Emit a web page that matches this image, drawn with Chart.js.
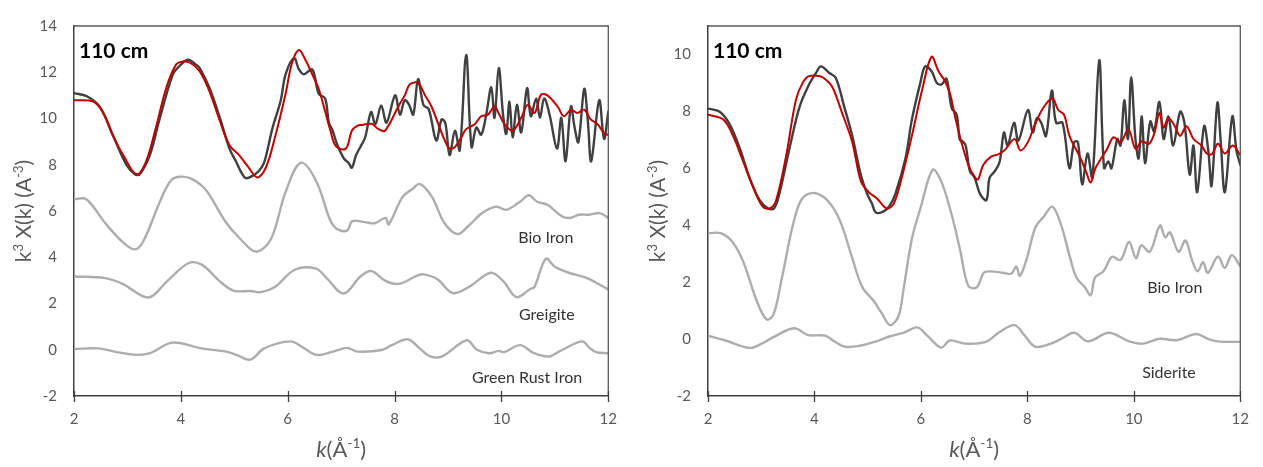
<!DOCTYPE html>
<html>
<head>
<meta charset="utf-8">
<script src="https://cdn.jsdelivr.net/npm/chart.js@4/dist/chart.umd.min.js"></script>
<style>
  html, body { margin: 0; padding: 0; background: #ffffff; }
  #wrap { position: relative; width: 1263px; height: 467px; overflow: hidden; }
  .panel { position: absolute; top: 0; height: 467px; }
  #left { left: 0; width: 631px; }
  #right { left: 634px; width: 629px; }
</style>
</head>
<body>
<div id="wrap">
  <div class="panel" id="left"><canvas id="cLeft" width="631" height="467"></canvas></div>
  <div class="panel" id="right"><canvas id="cRight" width="629" height="467"></canvas></div>
</div>
<script>
// ---------- k-space EXAFS spectra, 110 cm sample ----------
// Left panel: sample data, linear-combination fit and three reference spectra (offset)
const leftDataK = [2.0,2.24,2.48,2.73,2.98,3.14,3.23,3.42,3.60,3.85,3.97,4.13,4.28,4.35,4.53,4.72,4.91,5.03,5.15,5.22,5.34,5.46,5.56,5.71,5.87,5.96,6.12,6.21,6.30,6.46,6.58,6.70,6.77,6.84,6.92,7.05,7.14,7.20,7.28,7.36,7.45,7.56,7.64,7.75,7.85,8.01,8.10,8.19,8.27,8.35,8.44,8.54,8.64,8.78,8.88,8.95,9.03,9.13,9.22,9.34,9.44,9.53,9.62,9.71,9.81,9.87,9.95,10.03,10.09,10.15,10.21,10.29,10.37,10.48,10.55,10.65,10.72,10.80,10.90,11.04,11.12,11.20,11.30,11.37,11.44,11.55,11.62,11.68,11.83,11.92,12.0];
const leftData = [11.10,10.96,10.51,9.26,8.0,7.59,7.59,8.42,9.96,11.91,12.26,12.54,12.33,12.19,11.35,10.1,8.70,8.15,7.59,7.42,7.52,7.73,8.1,9.54,10.79,11.91,12.61,12.12,11.91,12.12,11.07,10.87,9.82,9.48,8.91,8.28,8.08,7.87,8.42,8.77,9.19,10.28,9.75,10.56,9.82,11.0,10.17,10.79,10.6,10.17,11.70,10.59,10.4,9.05,9.96,9.8,8.42,9.47,8.63,12.75,8.77,9.61,9.3,10.10,11.35,10.03,12.19,10.17,9.33,10.73,9.19,10.59,9.40,11.31,10.10,10.87,10.03,10.87,10.17,8.70,10.03,8.15,10.52,9.6,8.98,11.28,9.8,8.15,10.79,9.12,10.3];

const leftFitK = [2.0,2.36,2.55,2.73,2.92,3.17,3.35,3.54,3.73,3.91,4.04,4.18,4.35,4.53,4.72,4.91,5.09,5.25,5.43,5.59,5.77,5.96,6.08,6.21,6.33,6.46,6.58,6.70,6.80,6.89,7.02,7.11,7.20,7.30,7.39,7.57,7.70,7.82,8.07,8.19,8.29,8.44,8.57,8.69,8.82,8.94,9.03,9.13,9.25,9.34,9.50,9.62,9.75,9.87,9.96,10.06,10.21,10.37,10.49,10.62,10.74,10.86,11.05,11.17,11.30,11.42,11.55,11.67,11.80,11.93,12.0];
const leftFit = [10.79,10.73,10.24,9.26,8.42,7.59,8.15,9.68,11.35,12.33,12.47,12.4,12.05,11.21,9.96,8.84,8.42,7.94,7.45,7.87,9.26,11.07,12.4,12.96,12.54,11.91,11.28,10.31,9.47,8.84,8.66,8.77,9.47,9.68,9.72,9.77,9.54,9.47,10.52,11.0,11.49,11.53,11.0,10.52,9.75,9.05,8.70,8.77,9.19,9.54,9.75,10.10,10.17,10.52,10.17,9.75,9.47,10.03,10.59,10.24,11.03,11.0,10.52,10.10,10.38,10.24,10.38,9.96,9.75,9.35,9.3];

const leftBioK = [2.0,2.23,2.58,2.91,3.13,3.29,3.62,3.81,3.97,4.17,4.39,4.52,4.85,5.11,5.41,5.69,5.95,6.24,6.53,6.79,6.92,7.11,7.21,7.44,7.63,7.83,7.89,8.15,8.34,8.47,8.70,8.93,9.18,9.38,9.64,9.90,10.09,10.35,10.51,10.67,10.87,11.13,11.29,11.45,11.64,11.84,12.0];
const leftBio = [6.51,6.51,5.49,4.66,4.34,4.66,6.47,7.31,7.48,7.42,7.10,6.75,5.49,4.80,4.24,4.80,6.75,8.08,7.31,5.63,5.22,5.15,5.56,5.52,5.47,5.70,5.42,6.61,6.96,7.17,6.61,5.49,5.00,5.35,5.91,6.19,6.05,6.40,6.68,6.40,6.26,5.77,5.70,5.84,5.84,5.91,5.70];

const greigiteK = [2.0,2.58,2.91,3.39,3.75,4.14,4.39,4.72,4.98,5.30,5.50,5.75,6.14,6.53,6.72,7.05,7.37,7.57,7.83,8.08,8.41,8.54,8.80,9.09,9.38,9.80,10.03,10.28,10.54,10.62,10.83,11.0,11.26,11.58,12.0];
const greigite = [3.17,3.10,2.85,2.26,2.98,3.74,3.68,2.98,2.56,2.54,2.49,2.70,3.47,3.51,3.12,2.43,3.19,3.40,2.98,2.85,3.19,3.26,3.05,2.45,2.70,3.33,2.98,2.28,2.63,2.72,3.93,3.59,3.33,3.12,2.61];

const greenRustK = [2.0,2.45,2.8,3.17,3.42,3.84,4.39,4.85,5.04,5.30,5.56,6.05,6.27,6.53,6.85,7.11,7.31,7.76,7.95,8.25,8.47,8.67,8.89,9.35,9.54,9.77,9.95,10.05,10.35,10.61,10.90,11.10,11.51,11.64,11.77,12.0];
const greenRust = [0.03,0.06,-0.10,-0.22,-0.15,0.31,0.06,-0.08,-0.22,-0.43,0.06,0.36,0.12,-0.22,-0.08,0.08,-0.08,-0.01,0.20,0.45,0.06,-0.29,-0.29,0.41,0.0,-0.15,-0.05,-0.10,0.20,-0.15,-0.29,-0.05,0.36,0.10,-0.10,-0.15];

// Right panel: same sample, two-component fit with Bio Iron and Siderite
const rightDataK = [2.0,2.22,2.41,2.60,2.78,2.97,3.13,3.24,3.34,3.53,3.72,3.90,4.03,4.12,4.28,4.40,4.56,4.71,4.87,4.99,5.08,5.15,5.27,5.40,5.52,5.71,5.83,5.99,6.08,6.20,6.30,6.39,6.48,6.58,6.67,6.73,6.78,6.84,6.92,7.01,7.11,7.23,7.29,7.39,7.48,7.56,7.63,7.75,7.83,8.01,8.10,8.18,8.26,8.35,8.46,8.54,8.66,8.79,8.88,8.95,9.03,9.13,9.22,9.35,9.44,9.52,9.58,9.69,9.75,9.82,9.89,9.95,10.03,10.09,10.15,10.21,10.31,10.38,10.48,10.56,10.65,10.74,10.87,10.95,11.05,11.12,11.19,11.32,11.40,11.46,11.57,11.63,11.71,11.85,11.93,12.0];
const rightData = [8.10,7.99,7.54,6.69,5.67,4.88,4.59,4.59,5.10,6.69,8.16,8.95,9.35,9.58,9.35,9.18,8.16,7.14,5.78,5.10,4.76,4.45,4.46,4.65,5.10,6.35,7.71,9.01,9.58,9.41,9.0,8.95,9.15,8.1,7.9,7.0,6.95,6.80,5.90,5.67,5.10,4.88,5.67,5.90,6.24,7.26,6.80,7.60,6.97,8.05,7.26,7.77,7.6,7.14,8.73,7.60,7.60,6.01,6.92,6.92,5.44,6.52,5.67,9.80,6.01,6.24,6.0,7.03,6.8,8.39,7.03,9.20,7.03,6.35,7.82,6.18,7.65,7.3,8.33,7.03,7.82,6.80,7.99,7.6,5.78,6.8,5.16,7.48,6.6,5.39,8.30,7.0,5.16,7.82,6.6,6.12];

const rightFitK = [2.0,2.29,2.47,2.66,2.85,3.03,3.16,3.28,3.47,3.65,3.78,3.90,4.09,4.21,4.34,4.52,4.71,4.87,5.02,5.18,5.36,5.49,5.64,5.83,6.02,6.20,6.33,6.45,6.55,6.64,6.76,6.89,6.98,7.07,7.17,7.32,7.45,7.57,7.76,7.87,8.01,8.13,8.29,8.47,8.58,8.69,8.79,9.0,9.10,9.19,9.28,9.50,9.62,9.75,9.90,10.03,10.15,10.28,10.38,10.48,10.56,10.65,10.77,10.87,10.99,11.12,11.27,11.37,11.47,11.58,11.71,11.86,12.0];
const rightFit = [7.88,7.71,7.14,6.24,5.33,4.65,4.59,4.88,6.46,8.39,9.01,9.24,9.24,9.12,8.84,7.94,6.92,5.56,5.16,4.93,4.59,4.76,5.67,7.14,8.73,9.92,9.41,9.07,8.6,7.82,6.92,6.12,5.78,5.61,6.12,6.41,6.49,6.63,7.03,6.63,6.92,7.48,8.10,8.45,8.05,7.88,7.14,6.35,5.90,5.50,6.01,6.69,7.09,6.9,7.37,6.69,6.95,6.86,7.2,7.94,7.43,7.77,7.48,7.14,7.48,7.03,6.80,6.52,6.5,6.86,6.52,6.80,6.46];

const rightBioK = [2.0,2.24,2.46,2.66,2.91,3.10,3.23,3.39,3.59,3.75,3.94,4.16,4.36,4.52,4.71,4.90,5.10,5.26,5.42,5.58,5.67,5.83,6.0,6.22,6.38,6.57,6.73,6.89,7.05,7.18,7.31,7.54,7.70,7.79,7.86,7.99,8.15,8.31,8.47,8.63,8.79,8.92,9.08,9.19,9.27,9.43,9.59,9.75,9.91,10.04,10.14,10.30,10.49,10.59,10.68,10.84,10.97,11.10,11.20,11.30,11.39,11.58,11.71,11.84,12.0];
const rightBio = [3.72,3.72,3.41,2.73,1.37,0.69,0.86,2.16,3.97,4.88,5.13,5.01,4.59,3.97,2.84,1.82,1.37,0.92,0.49,0.81,1.71,3.52,4.65,5.95,5.55,4.42,3.18,1.87,1.82,2.33,2.38,2.33,2.3,2.55,2.22,2.84,3.92,4.31,4.65,4.03,2.95,2.16,1.82,1.54,2.16,2.38,2.89,2.78,3.41,2.84,3.29,3.07,3.99,3.58,3.75,3.07,3.46,2.73,2.38,2.7,2.33,2.90,2.50,2.95,2.56];

const sideriteK = [2.0,2.33,2.78,3.01,3.23,3.62,3.88,4.20,4.39,4.58,4.84,5.16,5.42,5.67,5.93,6.12,6.38,6.54,6.83,7.22,7.47,7.76,7.95,8.15,8.44,8.65,8.88,9.14,9.53,9.91,10.17,10.49,10.80,11.17,11.39,11.58,12.0];
const siderite = [0.12,-0.05,-0.31,-0.16,0.07,0.38,0.14,0.12,-0.10,-0.27,-0.24,-0.08,0.10,0.22,0.41,0.12,-0.30,-0.05,-0.16,-0.10,0.24,0.49,0.12,-0.27,-0.16,0.02,0.22,-0.08,0.22,-0.08,-0.16,0.01,-0.04,0.18,0.01,-0.08,-0.10];

// Axis tick values
const kTicks = [2, 4, 6, 8, 10, 12];
const leftYTicks = [-2, 0, 2, 4, 6, 8, 10, 12, 14];
const rightYTicks = [-2, 0, 2, 4, 6, 8, 10];

// ---------- drawing helpers ----------
const FONT = "Lato, 'Open Sans', 'Liberation Sans', sans-serif";
const C_DATA = '#404040', C_FIT = '#c00000', C_REF = '#adadad';
const C_AXIS = '#404040', C_FRAME = '#595959', C_TICKTXT = '#595959';

function pairs(ks, vs) { return ks.map((k, i) => ({ x: k, y: vs[i] })); }

function line(label, ks, vs, color, width) {
  return {
    label, data: pairs(ks, vs), showLine: true, borderColor: color, backgroundColor: color,
    borderWidth: width, pointRadius: 0, pointHoverRadius: 0, tension: 0.35,
    borderJoinStyle: 'round', borderCapStyle: 'round', fill: false
  };
}

// draw a run of text pieces (some superscript / italic) starting at x on baseline y
function richWidth(ctx, parts, size) {
  let w = 0;
  parts.forEach(p => {
    ctx.font = (p.italic ? 'italic ' : '') + (p.sup ? size * 0.62 : size) + 'px ' + FONT;
    w += ctx.measureText(p.t).width;
  });
  return w;
}
function drawRich(ctx, parts, size, x, y) {
  parts.forEach(p => {
    ctx.font = (p.italic ? 'italic ' : '') + (p.sup ? size * 0.62 : size) + 'px ' + FONT;
    ctx.fillText(p.t, x, p.sup ? y - size * 0.4 : y);
    x += ctx.measureText(p.t).width;
  });
}

const yTitleParts = [{ t: 'k' }, { t: '3', sup: true }, { t: ' X(k) (A' }, { t: '-3', sup: true }, { t: ')' }];
const xTitleParts = [{ t: 'k', italic: true }, { t: '(Å' }, { t: '-1', sup: true }, { t: ')' }];

// frame, crossing tick marks, axis titles and in-plot labels
const panelDecor = {
  id: 'panelDecor',
  afterDraw(chart, args, opts) {
    const { ctx, chartArea: a, scales: { x, y } } = chart;
    ctx.save();
    ctx.lineCap = 'butt';
    // top and right edges of the plot box
    ctx.strokeStyle = C_FRAME; ctx.lineWidth = 1.3;
    ctx.beginPath();
    ctx.moveTo(a.left, a.top); ctx.lineTo(a.right, a.top); ctx.lineTo(a.right, a.bottom);
    ctx.stroke();
    // k tick marks straddling the bottom axis
    ctx.strokeStyle = C_AXIS; ctx.lineWidth = 1.3;
    ctx.beginPath();
    x.ticks.forEach(t => {
      const px = Math.round(x.getPixelForValue(t.value)) + 0.5;
      ctx.moveTo(px, a.bottom - 5); ctx.lineTo(px, a.bottom + 6);
    });
    ctx.stroke();

    ctx.fillStyle = C_TICKTXT;
    ctx.textBaseline = 'alphabetic';
    ctx.textAlign = 'left';
    // x title
    const xs = 22;
    const xw = richWidth(ctx, xTitleParts, xs);
    drawRich(ctx, xTitleParts, xs, (a.left + a.right) / 2 - xw / 2, 457);
    // y title, rotated
    const ys = 21;
    const yw = richWidth(ctx, yTitleParts, ys);
    ctx.save();
    ctx.translate(31, (a.top + a.bottom) / 2);
    ctx.rotate(-Math.PI / 2);
    drawRich(ctx, yTitleParts, ys, -yw / 2, 0);
    ctx.restore();

    // panel heading
    ctx.fillStyle = '#000000';
    ctx.font = 'bold 21px ' + FONT;
    ctx.fillText(opts.heading, a.left + 5, a.top + 32);

    // series names placed in data coordinates
    ctx.fillStyle = '#333333';
    ctx.font = '16px ' + FONT;
    ctx.textAlign = 'center';
    ctx.textBaseline = 'middle';
    opts.notes.forEach(n => {
      ctx.fillText(n.text, x.getPixelForValue(n.k), y.getPixelForValue(n.v));
    });
    ctx.restore();
  }
};

function makePanel(canvasId, datasets, yMax, yTicks, padRight, notes) {
  return new Chart(document.getElementById(canvasId), {
    type: 'scatter',
    data: { datasets },
    plugins: [panelDecor],
    options: {
      responsive: false,
      animation: false,
      devicePixelRatio: 1,
      layout: { padding: { top: 13, right: padRight, left: 0, bottom: 0 } },
      events: [],
      plugins: {
        legend: { display: false },
        tooltip: { enabled: false },
        panelDecor: { heading: '110 cm', notes }
      },
      scales: {
        x: {
          type: 'linear', min: 2, max: 12,
          afterBuildTicks: s => { s.ticks = kTicks.map(v => ({ value: v })); },
          afterFit: s => { s.height = 71; },
          ticks: { font: { family: FONT, size: 15 }, color: C_TICKTXT, padding: 14, maxRotation: 0 },
          grid: { drawOnChartArea: false, drawTicks: false },
          border: { display: true, color: C_AXIS, width: 1.5 }
        },
        y: {
          type: 'linear', min: -2, max: yMax,
          afterBuildTicks: s => { s.ticks = yTicks.map(v => ({ value: v })); },
          afterFit: s => { s.width = 74; },
          ticks: { font: { family: FONT, size: 15 }, color: C_TICKTXT, padding: 17 },
          grid: { drawOnChartArea: false, drawTicks: false },
          border: { display: true, color: C_AXIS, width: 1.5 }
        }
      }
    }
  });
}

makePanel('cLeft', [
  line('Fit', leftFitK, leftFit, C_FIT, 2),
  line('110 cm', leftDataK, leftData, C_DATA, 2.4),
  line('Bio Iron', leftBioK, leftBio, C_REF, 2.4),
  line('Greigite', greigiteK, greigite, C_REF, 2.4),
  line('Green Rust Iron', greenRustK, greenRust, C_REF, 2.4)
], 14, leftYTicks, 20, [
  { text: 'Bio Iron', k: 10.83, v: 4.85 },
  { text: 'Greigite', k: 10.85, v: 1.51 },
  { text: 'Green Rust Iron', k: 10.48, v: -1.21 }
]);

makePanel('cRight', [
  line('Fit', rightFitK, rightFit, C_FIT, 2),
  line('110 cm', rightDataK, rightData, C_DATA, 2.4),
  line('Bio Iron', rightBioK, rightBio, C_REF, 2.4),
  line('Siderite', sideriteK, siderite, C_REF, 2.4)
], 11, rightYTicks, 19, [
  { text: 'Bio Iron', k: 10.77, v: 1.80 },
  { text: 'Siderite', k: 10.66, v: -1.19 }
]);
</script>
</body>
</html>
